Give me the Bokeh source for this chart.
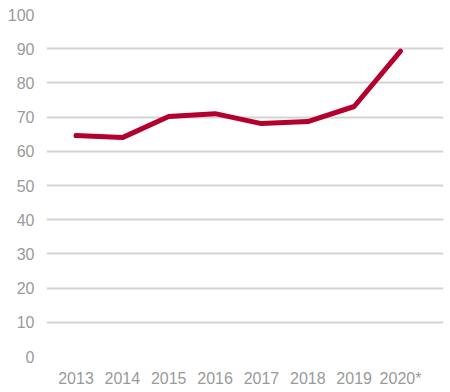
from bokeh.plotting import figure
from bokeh.models import Range1d, FixedTicker
from bokeh.embed import file_html
from bokeh.resources import INLINE

years = ["2013", "2014", "2015", "2016", "2017", "2018", "2019", "2020*"]
values = [64.6, 64.0, 70.2, 71.0, 68.1, 68.7, 73.1, 89.3]
y_ticks = [0, 10, 20, 30, 40, 50, 60, 70, 80, 90, 100]

xs = list(range(len(years)))

p = figure(width=450, height=392, output_backend="svg", toolbar_location=None,
           x_range=Range1d(-0.636, 7.927), y_range=Range1d(0, 100),
           min_border_left=46, min_border_right=7, min_border_top=14, min_border_bottom=36)
p.outline_line_color = None
p.background_fill_color = "white"
p.border_fill_color = "white"

p.line(xs, values, line_color="#b4002d", line_width=5, line_cap="round", line_join="round")

p.xgrid.grid_line_color = None
p.ygrid.grid_line_color = "#d4d4d4"
p.ygrid.grid_line_width = 2
p.ygrid.ticker = FixedTicker(ticks=y_ticks)

p.yaxis.ticker = FixedTicker(ticks=y_ticks)
p.xaxis.ticker = FixedTicker(ticks=xs)
p.xaxis.major_label_overrides = {i: y for i, y in enumerate(years)}

for ax in (p.xaxis[0], p.yaxis[0]):
    ax.axis_line_color = None
    ax.major_tick_line_color = None
    ax.minor_tick_line_color = None
    ax.major_tick_out = 0
    ax.major_tick_in = 0
    ax.minor_tick_out = 0
    ax.major_label_text_color = "#9a9a9a"
    ax.major_label_text_font = "Liberation Sans"
    ax.major_label_text_font_size = "16px"

p.yaxis.major_label_standoff = 12
p.xaxis.major_label_standoff = 13

open("out.html", "w").write(file_html(p, INLINE))
